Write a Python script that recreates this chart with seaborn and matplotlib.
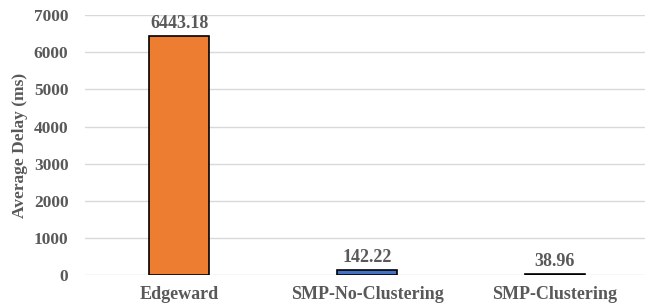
import matplotlib
matplotlib.use("Agg")
import matplotlib.pyplot as plt
import seaborn as sns
import pandas as pd

# data
methods = ["Edgeward", "SMP-No-Clustering", "SMP-Clustering"]
delays = [6443.18, 142.22, 38.96]
colors = ["#ED7D31", "#4472C4", "#A5A5A5"]

df = pd.DataFrame({"method": methods, "delay": delays})

sns.set_style("white")
plt.rcParams["font.family"] = ["Liberation Serif", "DejaVu Serif"]
plt.rcParams["font.weight"] = "bold"

text_color = "#595959"

fig = plt.figure(figsize=(6.45, 3.08), dpi=100)
ax = fig.add_axes([0.132, 0.107, 0.874, 0.844])

sns.barplot(
    data=df, x="method", y="delay", hue="method",
    palette=colors, saturation=1, width=0.32, edgecolor="black",
    linewidth=1.2, legend=False, ax=ax, zorder=3
)

for i, v in enumerate(delays):
    ax.text(i, v + 110, f"{v:.2f}", ha="center", va="bottom",
            fontsize=13, fontweight="bold", color=text_color)

ax.set_ylim(0, 7000)
ax.set_xlim(-0.5, 2.5)
ax.set_yticks(range(0, 7001, 1000))
ax.yaxis.grid(True, color="#D9D9D9", linewidth=1, zorder=0)
ax.set_axisbelow(True)
for s in ax.spines.values():
    s.set_visible(False)

ax.set_xlabel("")
ax.set_ylabel("Average Delay (ms)", fontsize=12.5, fontweight="bold",
              color=text_color, labelpad=4)
ax.tick_params(axis="y", length=0, labelsize=12.5, colors=text_color, pad=12)
ax.tick_params(axis="x", length=0, labelsize=13, colors=text_color, pad=8)
for lbl in ax.get_xticklabels() + ax.get_yticklabels():
    lbl.set_fontweight("bold")

fig.savefig("out.png", dpi=100)
